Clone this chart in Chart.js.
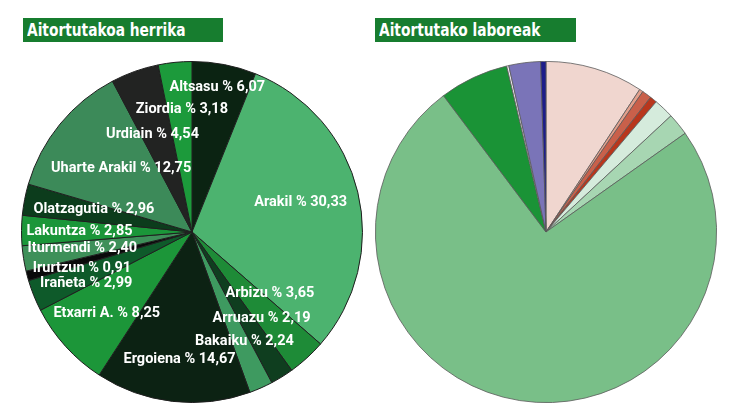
<!DOCTYPE html>
<html>
<head>
<meta charset="utf-8">
<script src="https://cdn.jsdelivr.net/npm/chart.js@4/dist/chart.umd.min.js"></script>
<style>
  html, body { margin: 0; padding: 0; background: #ffffff; }
  body { width: 735px; height: 413px; position: relative; overflow: hidden; }
  .title {
    position: absolute; top: 18px; height: 24px; background: #177d2f; white-space: nowrap;
    color: #ffffff; font-family: "DejaVu Sans Condensed", "Liberation Sans", sans-serif;
    font-weight: bold; font-size: 18px; line-height: 24px; padding-left: 4px; box-sizing: border-box;
  }
  .title span { display: inline-block; transform: scaleX(0.85); transform-origin: left center; }
  .box { position: absolute; top: 61px; width: 342px; height: 342px; }
</style>
</head>
<body>
<div class="title" style="left:23px; width:200px;"><span>Aitortutakoa herrika</span></div>
<div class="title" style="left:375px; width:201px;"><span>Aitortutako laboreak</span></div>
<div class="box" style="left:21px;"><canvas id="c1"></canvas></div>
<div class="box" style="left:375px;"><canvas id="c2"></canvas></div>
<script>
// ---- Left pie: Aitortutakoa herrika ----
const towns = ["Altsasu", "Arakil", "Arbizu", "Arruazu", "Bakaiku", "Ergoiena", "Etxarri A.", "Irañeta",
               "Irurtzun", "Iturmendi", "Lakuntza", "Olatzagutia", "Uharte Arakil", "Urdiain", "Ziordia"];
const townShares = [6.07, 30.33, 3.65, 2.19, 2.24, 14.67, 8.25, 2.99, 0.91, 2.40, 2.85, 2.96, 12.75, 4.54, 3.18];
const townColors = ["#0b2312", "#4cb36f", "#1e8b37", "#0f3e1f", "#3e9a60", "#0c2213", "#1c9639", "#0e5a2a",
                    "#0a0a0a", "#3e9059", "#1b9639", "#0c3c1c", "#3c8a59", "#222322", "#1c9a3b"];
// label placement: fraction of radius and angle shift (degrees) relative to slice middle
const labelRadius = [0.86, 0.66, 0.58, 0.65, 0.71, 0.75, 0.69, 0.69, 0.68, 0.65, 0.66, 0.59, 0.56, 0.62, 0.72];
const labelShift  = [-1, -1.5, -9.6, -7, -1.8, -1, -1.4, -4, -3.3, 0.7, 0, 1.8, 2.8, -2.3, 1];

// ---- Right pie: Aitortutako laboreak (unlabelled) ----
const crops = ["Laborea 1", "Laborea 2", "Laborea 3", "Laborea 4", "Laborea 5", "Laborea 6",
               "Laborea 7", "Laborea 8", "Laborea 9", "Laborea 10", "Laborea 11"];
const cropShares = [9.25, 0.35, 0.9, 0.67, 1.9, 2.1, 74.5, 6.55, 0.2, 3.0, 0.5];
const cropColors = ["#f0d6cf", "#e3a08c", "#c9604a", "#b8361c", "#d5ebdc", "#a7d6b2", "#79bf88",
                    "#1a9336", "#f2f2f6", "#7a74b8", "#1d1d8a"];

const fmt = v => v.toFixed(2).replace('.', ',');

const labelPlugin = {
  id: 'sliceLabels',
  afterDatasetsDraw(chart) {
    const ctx = chart.ctx;
    const meta = chart.getDatasetMeta(0);
    ctx.save();
    ctx.fillStyle = '#ffffff';
    ctx.font = 'bold 14.5px Roboto, "Open Sans", sans-serif';
    ctx.textAlign = 'center';
    ctx.textBaseline = 'middle';
    meta.data.forEach((arc, i) => {
      const p = arc.getProps(['x', 'y', 'startAngle', 'endAngle', 'outerRadius'], true);
      const a = (p.startAngle + p.endAngle) / 2 + labelShift[i] * Math.PI / 180;
      const r = p.outerRadius * labelRadius[i];
      const x = p.x + Math.cos(a) * r;
      const y = p.y + Math.sin(a) * r;
      ctx.fillText(towns[i] + ' % ' + fmt(townShares[i]), x, y);
    });
    ctx.restore();
  }
};

const common = {
  responsive: true,
  maintainAspectRatio: false,
  animation: false,
  layout: { padding: 0 },
  plugins: { legend: { display: false }, tooltip: { enabled: false }, title: { display: false } }
};

new Chart(document.getElementById('c1'), {
  type: 'pie',
  data: { labels: towns, datasets: [{ data: townShares, backgroundColor: townColors, borderColor: '#1f1f1f', borderWidth: 1 }] },
  options: common,
  plugins: [labelPlugin]
});

new Chart(document.getElementById('c2'), {
  type: 'pie',
  data: { labels: crops, datasets: [{ data: cropShares, backgroundColor: cropColors, borderColor: '#5a5a5a', borderWidth: 0.8 }] },
  options: common
});
</script>
</body>
</html>
